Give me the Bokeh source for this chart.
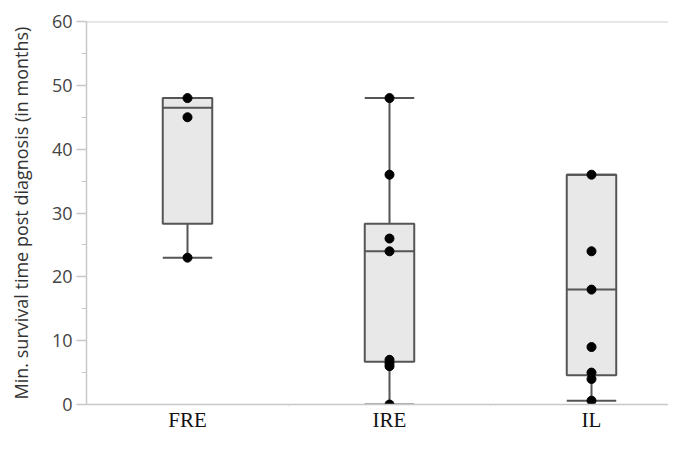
from bokeh.plotting import figure
from bokeh.models import Range1d, FixedTicker, Span
from bokeh.embed import file_html
from bokeh.resources import INLINE

# ---- data ----
categories = ["FRE", "IRE", "IL"]
q1 = [28.3, 6.7, 4.6]
median = [46.5, 24.0, 18.0]
q3 = [48.0, 28.3, 36.0]
lower = [23.0, 0.0, 0.6]
upper = [48.0, 48.0, 36.0]
fre_points = [48, 45, 23]
ire_points = [48, 36, 26, 24, 7, 6.5, 6, 0]
il_points = [36, 24, 18, 9, 5, 4, 0.6]
y_ticks = [0, 10, 20, 30, 40, 50, 60]
y_minor = [5, 15, 25, 35, 45, 55]
y_label = "Min. survival time post diagnosis (in months)"

# ---- layout ----
W, H = 668, 434
LEFT = 86
CAT_PX = 202.0
frame_w = W - LEFT
BOX_W = 0.245

xs = [i + 0.5 for i in range(len(categories))]

p = figure(width=W, height=H, output_backend="svg", toolbar_location=None,
           x_range=Range1d(0, frame_w / CAT_PX), y_range=Range1d(0, 60),
           min_border_left=LEFT, min_border_right=0, min_border_top=21,
           min_border_bottom=30)
p.outline_line_color = None
p.xgrid.visible = False
p.ygrid.visible = False
p.background_fill_color = "white"
p.border_fill_color = "white"

AX = "#c8c8c8"
# y axis
ya = p.yaxis[0]
ya.ticker = FixedTicker(ticks=y_ticks, minor_ticks=y_minor)
ya.axis_line_color = AX
ya.axis_line_width = 1.5
ya.major_tick_line_color = AX
ya.major_tick_line_width = 1.5
ya.major_tick_out = 10
ya.major_tick_in = 0
ya.minor_tick_line_color = AX
ya.minor_tick_out = 5
ya.minor_tick_in = 0
ya.major_label_text_font = "Open Sans"
ya.major_label_text_font_size = "18px"
ya.major_label_text_color = "#444444"
ya.major_label_standoff = 4
ya.axis_label = y_label
ya.axis_label_text_font = "Open Sans"
ya.axis_label_text_font_size = "18px"
ya.axis_label_text_font_style = "normal"
ya.axis_label_text_color = "#333333"
ya.axis_label_standoff = 16

# x axis
xa = p.xaxis[0]
xa.ticker = FixedTicker(ticks=xs, minor_ticks=[1, 2, 3])
xa.major_label_overrides = {x: c for x, c in zip(xs, categories)}
xa.axis_line_color = AX
xa.axis_line_width = 1.5
xa.major_tick_line_color = None
xa.major_tick_out = 0
xa.major_tick_in = 0
xa.minor_tick_line_color = "#e0e0e0"
xa.minor_tick_out = 2
xa.minor_tick_in = 0
xa.major_label_text_font = "Liberation Serif"
xa.major_label_text_font_size = "21px"
xa.major_label_text_color = "#111111"
xa.major_label_standoff = 1

# top border line
p.add_layout(Span(location=60, dimension="width", line_color="#d0d0d0", line_width=2))

LINE = "#555555"
half = BOX_W / 2
# whiskers
p.segment(x0=xs, y0=q3, x1=xs, y1=upper, line_color=LINE, line_width=2)
p.segment(x0=xs, y0=lower, x1=xs, y1=q1, line_color=LINE, line_width=2)
# boxes
p.vbar(x=xs, width=BOX_W, bottom=q1, top=q3, fill_color="#e8e8e8",
       line_color=LINE, line_width=2)
# medians
p.segment(x0=[x - half for x in xs], y0=median, x1=[x + half for x in xs], y1=median,
          line_color=LINE, line_width=2)
# caps
p.segment(x0=[x - half for x in xs], y0=upper, x1=[x + half for x in xs], y1=upper,
          line_color=LINE, line_width=2)
p.segment(x0=[x - half for x in xs], y0=lower, x1=[x + half for x in xs], y1=lower,
          line_color=LINE, line_width=2)

# points
px, py = [], []
for x, pts in zip(xs, [fre_points, ire_points, il_points]):
    px += [x] * len(pts)
    py += pts
p.scatter(x=px, y=py, size=9, fill_color="black", line_color="black")

open("out.html", "w").write(file_html(p, INLINE))
